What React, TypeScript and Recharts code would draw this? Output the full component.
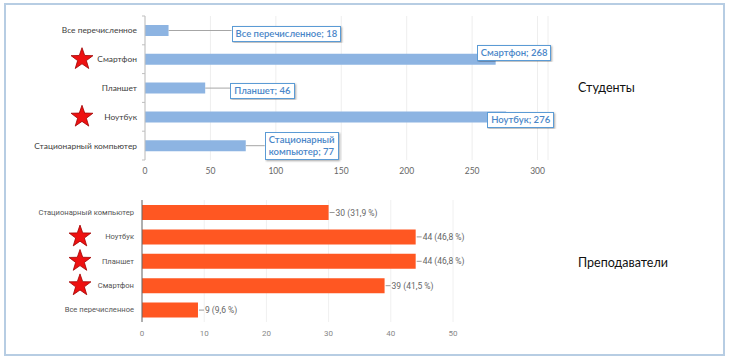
import { BarChart, Bar, XAxis, YAxis, CartesianGrid, LabelList } from 'recharts';

const studentCategories = ['Все перечисленное', 'Смартфон', 'Планшет', 'Ноутбук', 'Стационарный компьютер'];
const studentValues = [18, 268, 46, 276, 77];
const studentTicks = [0, 50, 100, 150, 200, 250, 300];
const studentStarred = ['Смартфон', 'Ноутбук'];

const teacherCategories = ['Стационарный компьютер', 'Ноутбук', 'Планшет', 'Смартфон', 'Все перечисленное'];
const teacherValues = [30, 44, 44, 39, 9];
const teacherPercents = ['31,9', '46,8', '46,8', '41,5', '9,6'];
const teacherTicks = [0, 10, 20, 30, 40, 50];
const teacherStarred = ['Ноутбук', 'Планшет', 'Смартфон'];

const studentData = studentCategories.map((name, i) => ({ name, value: studentValues[i] }));
const teacherData = teacherCategories.map((name, i) => ({
  name,
  value: teacherValues[i],
  pct: teacherPercents[i],
}));

// where the Excel-style callouts sit relative to the bar end
const calloutPlacement: Record<string, { dx: number; dy: number; wrap?: boolean }> = {
  'Все перечисленное': { dx: 63, dy: 0 },
  'Смартфон': { dx: -19, dy: -9.5 },
  'Планшет': { dx: 25, dy: 0 },
  'Ноутбук': { dx: -19, dy: 0 },
  'Стационарный компьютер': { dx: 19, dy: 0, wrap: true },
};

const starPoints = (cx: number, cy: number, r: number) => {
  const pts: string[] = [];
  for (let i = 0; i < 10; i++) {
    const rad = i % 2 === 0 ? r : r * 0.4;
    const a = -Math.PI / 2 + (i * Math.PI) / 5;
    pts.push(`${cx + rad * Math.cos(a)},${cy + rad * Math.sin(a)}`);
  }
  return pts.join(' ');
};

const CategoryTick = ({ x, y, payload, starred, starX, band, fontSize, fontFamily, color, showMarks }: any) => {
  const name = payload.value as string;
  return (
    <g>
      {showMarks && <line x1={x + 5} x2={x + 8} y1={y - band / 2} y2={y - band / 2} stroke="#bfbfbf" />}
      {showMarks && name === 'Стационарный компьютер' && (
        <line x1={x + 5} x2={x + 8} y1={y + band / 2} y2={y + band / 2} stroke="#bfbfbf" />
      )}
      <text x={x} y={y} textAnchor="end" dominantBaseline="central" fontSize={fontSize} fill={color}
        fontFamily={fontFamily}>
        {name}
      </text>
      {starred.includes(name) && (
        <polygon points={starPoints(starX, y, 11.5)} fill="#ee1111" stroke="#a00000" strokeWidth={0.8} />
      )}
    </g>
  );
};

const StudentCallout = (props: any) => {
  const { x, y, width, height, index } = props;
  const item = studentData[index];
  const place = calloutPlacement[item.name];
  const end = x + width;
  const cy = y + height / 2 + place.dy;
  const boxLeft = end + place.dx;
  const lines = place.wrap ? ['Стационарный', `компьютер; ${item.value}`] : [`${item.name}; ${item.value}`];
  const boxH = lines.length * 12 + 4;
  return (
    <g>
      {place.dx > 0 && <line x1={end} y1={cy} x2={boxLeft} y2={cy} stroke="#a6a6a6" />}
      <foreignObject x={boxLeft} y={cy - boxH / 2} width={160} height={boxH + 4}>
        <div
          style={{
            display: 'inline-block',
            border: '1px solid #5b9bd5',
            background: '#fff',
            color: '#4a86c8',
            fontSize: 9.5,
            lineHeight: '12px',
            padding: '1px 3px',
            fontFamily: 'Lato, sans-serif',
            fontWeight: 600,
            boxShadow: '1px 1px 2px rgba(0,0,0,0.35)',
            whiteSpace: 'nowrap',
          }}
        >
          {lines.map((l) => (
            <div key={l}>{l}</div>
          ))}
        </div>
      </foreignObject>
    </g>
  );
};

const TeacherLabel = (props: any) => {
  const { x, y, width, height, index } = props;
  const item = teacherData[index];
  const end = x + width;
  const cy = y + height / 2;
  return (
    <g>
      <line x1={end + 1} x2={end + 6} y1={cy} y2={cy} stroke="#999" />
      <text x={end + 7} y={cy} dominantBaseline="central" fontSize={8.5} fill="#666"
        fontFamily="Roboto, sans-serif">
        {`${item.value} (${item.pct} %)`}
      </text>
    </g>
  );
};

export default function App() {
  return (
    <div style={{ position: 'absolute', left: 0, top: 0, width: 734, height: 364, background: '#fff', overflow: 'hidden' }}>
      <div
        style={{
          position: 'absolute',
          left: 4,
          top: 3,
          width: 721,
          height: 353,
          boxSizing: 'border-box',
          border: '2px solid #b7cde3',
        }}
      />

      <div style={{ position: 'absolute', left: 0, top: 0 }}>
        <BarChart width={560} height={182} data={studentData} layout="vertical"
          margin={{ top: 16, right: 12, bottom: 0, left: 0 }}>
          <CartesianGrid horizontal={false} stroke="#eeeeee" />
          <XAxis type="number" domain={[0, 308]} ticks={studentTicks} axisLine={false} tickLine={false}
            height={22} tick={{ fill: '#666', fontSize: 8.5, fontFamily: 'Lato, sans-serif' }} />
          <YAxis type="category" dataKey="name" width={145} axisLine={{ stroke: '#bfbfbf' }} tickLine={false}
            tickSize={0} tickMargin={8}
            tick={<CategoryTick starred={studentStarred} starX={82} band={28.8} fontSize={8.4}
              fontFamily="Lato, sans-serif" color="#404040" showMarks />} />
          <Bar dataKey="value" fill="#8db4e2" barSize={11} isAnimationActive={false}>
            <LabelList dataKey="value" content={<StudentCallout />} />
          </Bar>
        </BarChart>
      </div>

      <div style={{ position: 'absolute', left: 578, top: 80, fontSize: 12.5, fontFamily: 'Lato, sans-serif', color: '#111' }}>
        Студенты
      </div>

      <div style={{ position: 'absolute', left: 0, top: 190 }}>
        <BarChart width={480} height={154} data={teacherData} layout="vertical"
          margin={{ top: 10, right: 27, bottom: 0, left: 0 }}>
          <CartesianGrid horizontal={false} stroke="#f0f0f0" />
          <XAxis type="number" domain={[0, 50]} ticks={teacherTicks} axisLine={false} tickLine={false}
            height={22} tick={{ fill: '#888', fontSize: 8, fontFamily: 'Roboto, sans-serif' }} />
          <YAxis type="category" dataKey="name" width={142} axisLine={{ stroke: '#666' }} tickLine={false}
            tickSize={0} tickMargin={8}
            tick={<CategoryTick starred={teacherStarred} starX={80} band={24.4} fontSize={7.6}
              fontFamily="Roboto, sans-serif" color="#555" />} />
          <Bar dataKey="value" fill="#ff5722" barSize={15} isAnimationActive={false}>
            <LabelList dataKey="value" content={<TeacherLabel />} />
          </Bar>
        </BarChart>
      </div>

      <div style={{ position: 'absolute', left: 578, top: 255, fontSize: 12.5, fontFamily: 'Lato, sans-serif', color: '#111' }}>
        Преподаватели
      </div>
    </div>
  );
}
